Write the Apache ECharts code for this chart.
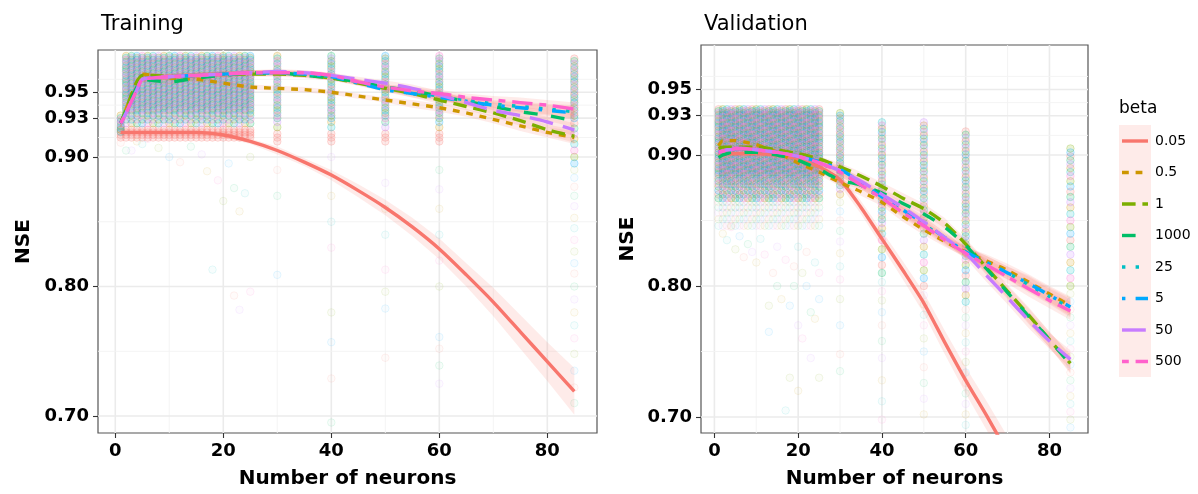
<!DOCTYPE html>
<html>
<head>
<meta charset="utf-8">
<script src="https://cdn.jsdelivr.net/npm/echarts@6/dist/echarts.min.js"></script>
<style>
  html, body { margin: 0; padding: 0; background: #ffffff; }
  #chart { width: 1198px; height: 494px; }
</style>
</head>
<body>
<div id="chart"></div>
<script>
// ---- categories ----
const betaLevels = ['0.05', '0.5', '1', '1000', '25', '5', '50', '500'];

// ---- axis ticks ----
const xTicks = [0, 20, 40, 60, 80];
const xMinorTicks = [10, 30, 50, 70];
const yTicks = [0.70, 0.80, 0.90, 0.93, 0.95];
const yMinorTicks = [0.75, 0.85, 0.915, 0.94, 0.96];

// ---- fitted curves (x = number of neurons) ----
const fitX = [1, 2, 3, 4, 5, 7, 10, 15, 20, 25, 30, 35, 40, 45, 50, 55, 60, 65, 70, 75, 80, 85];

const trainFit005 = [0.919,0.919,0.919,0.919,0.919,0.919,0.919,0.919,0.917,0.912,0.905,0.896,0.886,0.874,0.861,0.846,0.829,0.809,0.788,0.765,0.742,0.719];
const trainFit05  = [0.926,0.937,0.948,0.958,0.964,0.963,0.961,0.960,0.957,0.954,0.953,0.952,0.950,0.947,0.944,0.941,0.938,0.934,0.929,0.924,0.919,0.915];
const trainFit1   = [0.926,0.937,0.948,0.958,0.963,0.963,0.962,0.963,0.964,0.964,0.964,0.963,0.961,0.957,0.953,0.949,0.944,0.939,0.934,0.928,0.921,0.916];
const trainFit1000= [0.926,0.935,0.945,0.954,0.960,0.959,0.958,0.961,0.963,0.965,0.965,0.963,0.961,0.958,0.954,0.951,0.947,0.943,0.939,0.935,0.932,0.928];
const trainFit25  = [0.926,0.934,0.943,0.952,0.960,0.961,0.962,0.963,0.964,0.965,0.965,0.964,0.962,0.958,0.953,0.950,0.947,0.944,0.941,0.939,0.937,0.935];
const trainFit5   = [0.926,0.934,0.943,0.952,0.960,0.961,0.962,0.963,0.964,0.965,0.965,0.964,0.962,0.957,0.952,0.949,0.946,0.943,0.940,0.938,0.936,0.934];
const trainFit50  = [0.926,0.934,0.943,0.952,0.960,0.961,0.962,0.963,0.964,0.965,0.966,0.965,0.963,0.960,0.957,0.953,0.948,0.942,0.936,0.932,0.927,0.921];
const trainFit500 = [0.926,0.934,0.943,0.952,0.960,0.961,0.962,0.963,0.964,0.965,0.965,0.965,0.963,0.958,0.954,0.951,0.949,0.946,0.944,0.942,0.940,0.937];

const valFit005 = [0.900,0.900,0.901,0.901,0.901,0.901,0.901,0.900,0.897,0.891,0.881,0.860,0.836,0.812,0.787,0.757,0.728,0.701,0.673,0.645,0.617,0.589];
const valFit05  = [0.907,0.911,0.911,0.911,0.911,0.910,0.908,0.902,0.894,0.887,0.879,0.872,0.864,0.853,0.843,0.834,0.826,0.819,0.812,0.803,0.794,0.785];
const valFit1   = [0.905,0.906,0.906,0.906,0.906,0.906,0.906,0.904,0.901,0.897,0.891,0.884,0.876,0.867,0.859,0.848,0.832,0.814,0.796,0.778,0.759,0.741];
const valFit1000= [0.898,0.900,0.901,0.902,0.902,0.902,0.902,0.900,0.896,0.889,0.881,0.877,0.871,0.863,0.855,0.845,0.831,0.813,0.795,0.777,0.759,0.740];
const valFit25  = [0.902,0.903,0.904,0.904,0.905,0.905,0.904,0.902,0.899,0.894,0.887,0.877,0.867,0.857,0.847,0.836,0.826,0.818,0.810,0.801,0.792,0.783];
const valFit5   = [0.902,0.903,0.904,0.904,0.905,0.905,0.904,0.902,0.899,0.895,0.889,0.879,0.868,0.858,0.848,0.837,0.826,0.818,0.810,0.802,0.793,0.784];
const valFit50  = [0.902,0.903,0.904,0.904,0.905,0.905,0.904,0.902,0.899,0.894,0.888,0.880,0.870,0.860,0.849,0.837,0.825,0.808,0.791,0.774,0.758,0.744];
const valFit500 = [0.902,0.903,0.904,0.904,0.905,0.905,0.904,0.902,0.899,0.894,0.887,0.877,0.867,0.856,0.846,0.835,0.825,0.816,0.807,0.798,0.789,0.781];

// ---- standard errors of the fits ----
const trainSeLow  = [0.002,0.002,0.002,0.002,0.002,0.002,0.002,0.002,0.002,0.002,0.003,0.003,0.004,0.005,0.006,0.007,0.008,0.009,0.011,0.013,0.015,0.018];
const trainSe     = [0.003,0.003,0.002,0.002,0.002,0.002,0.002,0.002,0.002,0.002,0.002,0.002,0.002,0.002,0.002,0.003,0.003,0.003,0.003,0.004,0.004,0.005];
const valSeLow    = [0.003,0.003,0.002,0.002,0.002,0.002,0.002,0.002,0.002,0.003,0.004,0.005,0.006,0.007,0.008,0.009,0.010,0.011,0.012,0.013,0.014,0.016];
const valSe       = [0.003,0.003,0.002,0.002,0.002,0.002,0.002,0.002,0.002,0.002,0.003,0.003,0.003,0.004,0.004,0.004,0.004,0.005,0.005,0.006,0.006,0.007];

// ---- individual runs: training (dense groups) ----
const trainCloudX = [2,3,4,5,6,7,8,9,10,11,12,13,14,15,16,17,18,19,20,21,22,23,24,25];
const trainCloudY = [0.978,0.9765,0.975,0.9735,0.972,0.9705,0.969,0.9675,0.966,0.9645,0.963,0.9615,0.960,0.9585,0.957,0.9555,0.954,0.9525,0.951,0.9495,0.948,0.9465,0.945,0.9435,0.942,0.9405,0.939,0.9375,0.936,0.934,0.932,0.929,0.926];
const trainFirstY = [0.932,0.930,0.9285,0.927,0.9255,0.924,0.9225,0.921,0.9195];
const trainRedY   = [0.921,0.919,0.917,0.915];
const trainColX   = [30, 40, 50, 60];
const trainColY   = [0.978,0.976,0.974,0.972,0.970,0.968,0.966,0.964,0.962,0.960,0.958,0.956,0.954,0.952,0.950,0.948,0.946,0.944,0.942,0.940,0.938,0.936,0.934,0.932,0.930,0.927,0.923];
const trainColRedY= [0.918,0.915,0.912];
const trainEndY   = [0.976,0.974,0.972,0.970,0.968,0.966,0.964,0.962,0.960,0.958,0.956,0.954,0.952,0.950,0.948,0.946,0.944,0.942,0.940,0.938,0.936,0.934,0.932,0.930,0.926,0.922,0.918,0.914,0.910,0.905,0.900,0.895];
// ---- individual runs: training (scattered) ----
const trainEndLowY = [0.890,0.884,0.877,0.870,0.862,0.853,0.845,0.836,0.827,0.818,0.810,0.800,0.790,0.780,0.770,0.760,0.748,0.735,0.722,0.710];
const trainSparse = [[1,0.911],[2,0.905],[3,0.905],[4,0.912],[5,0.910],[6,0.914],[8,0.907],[10,0.900],[12,0.896],[14,0.908],[16,0.902],[17,0.889],[18,0.813],[19,0.882],[20,0.866],[21,0.895],[22,0.793],[22,0.876],[23,0.782],[23,0.858],[24,0.872],[25,0.796],[25,0.900],[30,0.809],[30,0.890],[30,0.870],[40,0.900],[40,0.870],[40,0.850],[40,0.830],[40,0.780],[40,0.757],[40,0.729],[40,0.695],[50,0.880],[50,0.860],[50,0.840],[50,0.813],[50,0.796],[50,0.783],[50,0.745],[60,0.890],[60,0.875],[60,0.860],[60,0.840],[60,0.820],[60,0.800],[60,0.761],[60,0.752],[60,0.739],[60,0.725]];

// ---- individual runs: validation (dense groups) ----
const valCloudX = [1,2,3,4,5,6,7,8,9,10,11,12,13,14,15,16,17,18,19,20,21,22,23,24,25];
const valCloudY = [0.935,0.9335,0.932,0.9305,0.929,0.9275,0.926,0.9245,0.923,0.9215,0.920,0.9185,0.917,0.9155,0.914,0.9125,0.911,0.9095,0.908,0.9065,0.905,0.9035,0.902,0.9005,0.899,0.8975,0.896,0.8945,0.893,0.8915,0.890,0.8885,0.887,0.8855,0.884,0.882,0.880,0.878,0.876,0.873,0.870,0.867];
const val30Y = [0.932,0.930,0.928,0.926,0.924,0.922,0.920,0.918,0.916,0.914,0.912,0.910,0.908,0.906,0.904,0.902,0.900,0.898,0.896,0.894,0.892,0.890,0.888,0.886,0.884,0.882,0.880,0.877,0.874,0.870];
const val40Y = [0.925,0.9225,0.920,0.9175,0.915,0.9125,0.910,0.9075,0.905,0.9025,0.900,0.8975,0.895,0.8925,0.890,0.8875,0.885,0.8825,0.880,0.8775,0.875,0.8725,0.870,0.8675,0.865,0.8625,0.860,0.857,0.854,0.851,0.848,0.844,0.840,0.835,0.828,0.822,0.816,0.810];
const val50Y = [0.925,0.9225,0.920,0.9175,0.915,0.9125,0.910,0.9075,0.905,0.9025,0.900,0.8975,0.895,0.8925,0.890,0.8875,0.885,0.8825,0.880,0.8775,0.875,0.8725,0.870,0.867,0.864,0.861,0.858,0.855,0.852,0.848,0.844,0.840,0.835,0.830,0.824,0.818,0.812,0.806,0.800];
const val60Y = [0.918,0.9155,0.913,0.9105,0.908,0.9055,0.903,0.9005,0.898,0.8955,0.893,0.8905,0.888,0.8855,0.883,0.8805,0.878,0.8755,0.873,0.8705,0.868,0.8655,0.863,0.8605,0.858,0.8555,0.853,0.850,0.847,0.844,0.841,0.838,0.835,0.832,0.829,0.826,0.823,0.820,0.816,0.812,0.808,0.803,0.798,0.793,0.788];
const val85Y = [0.905,0.902,0.899,0.896,0.893,0.890,0.887,0.884,0.880,0.876,0.872,0.868,0.864,0.860,0.855,0.850,0.845,0.840,0.835,0.830,0.824,0.818,0.812,0.806,0.800];
// ---- individual runs: validation (scattered) ----
const valCloudLowY = [0.864,0.860,0.856,0.851,0.846];
const val30LowY = [0.864,0.857,0.850,0.842,0.834,0.825,0.815,0.805,0.790,0.770,0.748,0.735];
const val40LowY = [0.803,0.796,0.789,0.780,0.770,0.758,0.745,0.728,0.712,0.698];
const val50LowY = [0.793,0.786,0.778,0.770,0.760,0.750,0.738,0.726,0.714,0.702];
const val60LowY = [0.782,0.776,0.770,0.764,0.757,0.750,0.742,0.734,0.726,0.718,0.710,0.702,0.694];
const val85LowY = [0.794,0.788,0.782,0.776,0.770,0.764,0.758,0.752,0.746,0.740,0.734,0.728,0.722,0.716,0.710,0.704,0.698,0.692];
const valSparse = [[2,0.840],[3,0.835],[4,0.845],[5,0.828],[6,0.838],[7,0.822],[8,0.832],[9,0.826],[10,0.818],[11,0.836],[12,0.824],[13,0.785],[13,0.765],[14,0.810],[15,0.800],[15,0.830],[16,0.790],[17,0.705],[17,0.820],[18,0.730],[18,0.785],[19,0.815],[19,0.800],[20,0.770],[20,0.720],[20,0.830],[21,0.760],[21,0.810],[22,0.800],[22,0.826],[23,0.780],[23,0.745],[24,0.775],[24,0.818],[25,0.810],[25,0.730],[25,0.790]];

// ---- styling ----
const FONT = 'DejaVu Sans';
const betaColors = ['#F8766D', '#CD9600', '#7CAE00', '#00BE67', '#00BFC4', '#00A9FF', '#C77CFF', '#FF61CC'];
const betaDash = [null, [2, 2], [4, 2], [4, 4], [1, 3], [1, 3, 4, 3], [7, 3], [2, 2, 6, 2]];
const LINE_W = 3.4;
const ribbonFill = 'rgba(248,118,109,0.15)';

function rgba(hex, a) {
  const n = parseInt(hex.slice(1), 16);
  return 'rgba(' + (n >> 16) + ',' + ((n >> 8) & 255) + ',' + (n & 255) + ',' + a + ')';
}
function dashOf(i) {
  return betaDash[i] ? betaDash[i].map(d => d * LINE_W) : 'solid';
}

// assemble runs into one bucket per beta level
function emptyBuckets() { return betaLevels.map(() => []); }
function addColumn(buckets, x, ys, palette, offset) {
  ys.forEach((y, k) => buckets[palette[(k * 3 + offset * 2) % palette.length]].push([x, y]));
}
const allBetas = [0, 1, 2, 3, 4, 5, 6, 7];
const upperBetas = [1, 2, 3, 4, 5, 6, 7];

const trainPts = emptyBuckets();
const trainFaint = emptyBuckets();
trainCloudX.forEach((x, j) => addColumn(trainPts, x, trainCloudY, upperBetas, j));
addColumn(trainPts, 1, trainFirstY, upperBetas, 0);
[1].concat(trainCloudX).forEach(x => addColumn(trainPts, x, trainRedY, [0], 0));
trainColX.forEach((x, j) => {
  addColumn(trainPts, x, trainColY, upperBetas, j);
  addColumn(trainPts, x, trainColRedY, [0], 0);
});
addColumn(trainPts, 85, trainEndY, allBetas, 0);
addColumn(trainFaint, 85, trainEndLowY, allBetas, 1);
trainSparse.forEach((p, k) => trainFaint[allBetas[(k * 3) % 8]].push(p));

const valPts = emptyBuckets();
const valFaint = emptyBuckets();
valCloudX.forEach((x, j) => {
  addColumn(valPts, x, valCloudY, allBetas, j);
  addColumn(valFaint, x, valCloudLowY, allBetas, j);
});
addColumn(valPts, 30, val30Y, allBetas, 1);
addColumn(valPts, 40, val40Y, allBetas, 2);
addColumn(valPts, 50, val50Y, allBetas, 3);
addColumn(valPts, 60, val60Y, allBetas, 4);
addColumn(valPts, 85, val85Y, allBetas, 5);
addColumn(valFaint, 30, val30LowY, allBetas, 1);
addColumn(valFaint, 40, val40LowY, allBetas, 2);
addColumn(valFaint, 50, val50LowY, allBetas, 3);
addColumn(valFaint, 60, val60LowY, allBetas, 4);
addColumn(valFaint, 85, val85LowY, allBetas, 5);
valSparse.forEach((p, k) => valFaint[allBetas[(k * 3 + 1) % 8]].push(p));

const trainFits = [trainFit005, trainFit05, trainFit1, trainFit1000, trainFit25, trainFit5, trainFit50, trainFit500];
const valFits = [valFit005, valFit05, valFit1, valFit1000, valFit25, valFit5, valFit50, valFit500];

// ---- series builders ----
function gridLineSeries(ax, xMin, yMin) {
  const data = [];
  xTicks.forEach(v => data.push([v, yMin, 0]));
  xMinorTicks.forEach(v => data.push([v, yMin, 1]));
  yTicks.forEach(v => data.push([xMin, v, 2]));
  yMinorTicks.forEach(v => data.push([xMin, v, 3]));
  return {
    type: 'custom', xAxisIndex: ax, yAxisIndex: ax, silent: true, z: 0,
    dimensions: ['x', 'y', 'k'], encode: { x: 0, y: 1 },
    data: data,
    renderItem(params, api) {
      const cs = params.coordSys;
      const k = api.value(2);
      const p = api.coord([api.value(0), api.value(1)]);
      const major = (k === 0 || k === 2);
      const shape = k < 2
        ? { x1: p[0], y1: cs.y, x2: p[0], y2: cs.y + cs.height }
        : { x1: cs.x, y1: p[1], x2: cs.x + cs.width, y2: p[1] };
      return { type: 'line', shape: shape,
        style: { stroke: major ? '#EBEBEB' : '#F3F3F3', lineWidth: major ? 1.6 : 0.9 } };
    }
  };
}

function scatterSeries(ax, buckets, fillA, strokeA) {
  return buckets.map((pts, i) => ({
    type: 'scatter', xAxisIndex: ax, yAxisIndex: ax, silent: true, z: 1,
    data: pts, symbol: 'circle', symbolSize: 7.5,
    itemStyle: { color: rgba(betaColors[i], fillA), borderColor: rgba(betaColors[i], strokeA), borderWidth: 1 }
  }));
}

function ribbonSeries(ax, fits, seLow, se) {
  return fits.map((fit, i) => {
    const s = i === 0 ? seLow : se;
    return {
      type: 'custom', xAxisIndex: ax, yAxisIndex: ax, silent: true, z: 2, clip: true,
      data: [[fitX[0], fit[0]]],
      renderItem(params, api) {
        const upper = fitX.map((x, j) => api.coord([x, fit[j] + s[j]]));
        const lower = fitX.map((x, j) => api.coord([x, fit[j] - s[j]])).reverse();
        return { type: 'polygon', shape: { points: upper.concat(lower), smooth: 0 },
          style: { fill: ribbonFill } };
      }
    };
  });
}

function fitSeries(ax, fits) {
  return fits.map((fit, i) => ({
    type: 'line', xAxisIndex: ax, yAxisIndex: ax, silent: true, z: 3, clip: true,
    name: betaLevels[i],
    data: fitX.map((x, j) => [x, fit[j]]),
    showSymbol: false, symbol: 'none', smooth: 0.25,
    lineStyle: { color: betaColors[i], width: LINE_W, type: dashOf(i), cap: 'butt', join: 'round' }
  }));
}

// ---- axes ----
const tickStyle = { color: '#333333', width: 1.1 };
const labelFont = { fontFamily: FONT, fontSize: 18, fontWeight: 'bold', color: '#000' };
const nameFont = { fontFamily: FONT, fontSize: 20, fontWeight: 'bold', color: '#000' };

function xAxisFor(ax) {
  return {
    type: 'value', gridIndex: ax, min: -3.2, max: 89.2,
    axisLine: { show: false },
    splitLine: { show: false },
    axisTick: { show: true, length: 5, customValues: xTicks, lineStyle: tickStyle },
    axisLabel: Object.assign({ customValues: xTicks, margin: 9 }, labelFont),
    name: 'Number of neurons', nameLocation: 'middle', nameGap: 36, nameTextStyle: nameFont
  };
}
function yAxisFor(ax, min, max, gap) {
  return {
    type: 'value', gridIndex: ax, min: min, max: max,
    axisLine: { show: false, onZero: false },
    splitLine: { show: false },
    axisTick: { show: true, length: 5, customValues: yTicks, lineStyle: tickStyle },
    axisLabel: Object.assign({ customValues: yTicks, margin: 9, formatter: v => v.toFixed(2) }, labelFont),
    name: 'NSE', nameLocation: 'middle', nameRotate: 90, nameGap: gap, nameTextStyle: nameFont
  };
}

// ---- legend (drawn as graphic elements) ----
const legendGraphic = [
  { type: 'text', left: 1119, top: 100, style: { text: 'beta', font: '17px "' + FONT + '"', fill: '#000' } },
  { type: 'rect', shape: { x: 1119, y: 125, width: 32, height: 252 }, style: { fill: ribbonFill } }
];
betaLevels.forEach((lab, i) => {
  const cy = 141 + i * 31.5;
  legendGraphic.push({ type: 'line', shape: { x1: 1122, y1: cy, x2: 1148, y2: cy },
    style: { stroke: betaColors[i], lineWidth: LINE_W, lineDash: betaDash[i] ? betaDash[i].map(d => d * LINE_W) : null, lineCap: 'butt' } });
  legendGraphic.push({ type: 'text', x: 1155, y: cy,
    style: { text: lab, font: '14px "' + FONT + '"', fill: '#000', verticalAlign: 'middle', align: 'left' } });
});

const option = {
  animation: false,
  backgroundColor: '#ffffff',
  title: [
    { text: 'Training', left: 96, top: 9, textStyle: { fontFamily: FONT, fontSize: 21, fontWeight: 'normal', color: '#000' } },
    { text: 'Validation', left: 699, top: 9, textStyle: { fontFamily: FONT, fontSize: 21, fontWeight: 'normal', color: '#000' } }
  ],
  grid: [
    { left: 98, top: 50, width: 499, height: 383, show: true, borderColor: '#555555', borderWidth: 1.2, backgroundColor: 'transparent' },
    { left: 701, top: 45, width: 387, height: 388, show: true, borderColor: '#555555', borderWidth: 1.2, backgroundColor: 'transparent' }
  ],
  xAxis: [xAxisFor(0), xAxisFor(1)],
  yAxis: [yAxisFor(0, 0.6869, 0.9826, 64), yAxisFor(1, 0.6878, 0.9840, 63)],
  graphic: legendGraphic,
  series: [].concat(
    gridLineSeries(0, -3.2, 0.6869),
    gridLineSeries(1, -3.2, 0.6878),
    scatterSeries(0, trainFaint, 0.04, 0.12),
    scatterSeries(1, valFaint, 0.04, 0.12),
    scatterSeries(0, trainPts, 0.2, 0.3),
    scatterSeries(1, valPts, 0.2, 0.3),
    ribbonSeries(0, trainFits, trainSeLow, trainSe),
    ribbonSeries(1, valFits, valSeLow, valSe),
    fitSeries(0, trainFits),
    fitSeries(1, valFits)
  )
};

const chart = echarts.init(document.getElementById('chart'), null, { renderer: 'canvas' });
chart.setOption(option);
</script>
</body>
</html>
